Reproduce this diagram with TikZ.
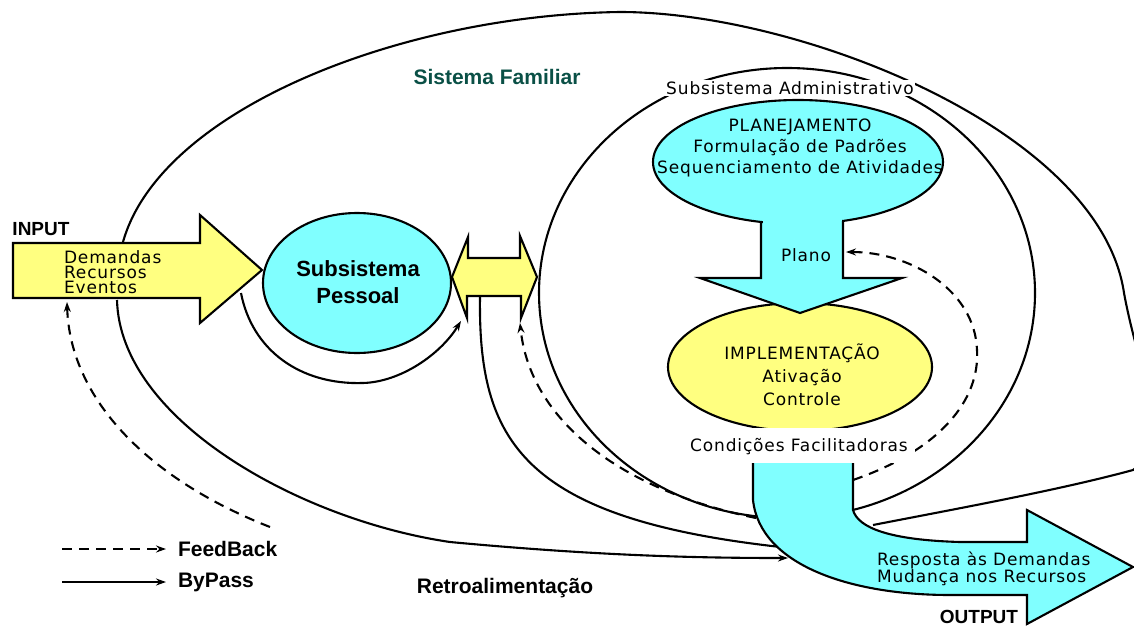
\documentclass[tikz,border=0pt]{standalone}
\usepackage{fontspec}
\usetikzlibrary{arrows.meta}
\newfontfamily\plainfont[LetterSpace=5]{DejaVu Sans}
\newfontfamily\boldfont{Liberation Sans}
\definecolor{famcyan}{RGB}{128,255,255}
\definecolor{famyellow}{RGB}{255,255,128}
\definecolor{famteal}{RGB}{10,80,70}
\begin{document}
\begin{tikzpicture}[x=1pt,y=-1pt,line width=2.1pt,
  txt/.style={font=\plainfont\fontsize{17}{21}\selectfont,inner sep=0pt,align=center},
  btxt/.style={font=\boldfont\bfseries\fontsize{21}{27}\selectfont,inner sep=0pt,align=center},
  fback/.style={dash pattern=on 10pt off 7pt,-{Stealth[length=10pt,width=7pt]}},
  bpass/.style={-{Stealth[length=10pt,width=7pt]}}]
\useasboundingbox (0,0) rectangle (1134,626);
\fill[white] (0,0) rectangle (1134,626);
\clip (0,0) rectangle (1134,626);
% sistema familiar e subsistema administrativo
\draw (123,242) .. controls (160,110) and (400,15) .. (620,12) .. controls (800,12) and (1100,130) .. (1124,293) .. controls (1140,380) and (1175,440) .. (1133,470) .. controls (1060,490) and (950,510) .. (873,525);
\draw (787,293) ellipse [x radius=248pt, y radius=225pt];
% retroalimentacao e bypass
\draw[bpass] (117,300) .. controls (120,420) and (300,520) .. (450,542) .. controls (600,556) and (700,558) .. (788,558);
\draw[fback] (270,527) .. controls (150,480) and (70,400) .. (67,302);
\draw[bpass] (241,293) .. controls (252,350) and (300,385) .. (363,383) .. controls (400,382) and (440,355) .. (461,321);
\draw (480,296) .. controls (478,440) and (520,520) .. (790,548);
\draw[fback] (756,518) .. controls (620,490) and (530,420) .. (520,323);
\draw[fback] (853,480) .. controls (940,450) and (980,400) .. (977,350) .. controls (975,290) and (910,252) .. (846,252);
% input
\draw[fill=famyellow] (13,243) -- (200,243) -- (200,215) -- (262,270) -- (200,323) -- (200,298) -- (13,298) -- cycle;
\node[btxt,font=\boldfont\bfseries\fontsize{19}{22}\selectfont] (input) at (41,229) {INPUT};
\node[txt,font=\plainfont\fontsize{17}{15}\selectfont,align=left,anchor=west] (entradas) at (63,272) {Demandas\\Recursos\\Eventos};
% subsistema pessoal
\draw[fill=famcyan] (357,283) ellipse [x radius=94pt, y radius=70pt];
\node[btxt,font=\boldfont\bfseries\fontsize{22}{27}\selectfont] (pessoal) at (358,282) {Subsistema\\Pessoal};
\draw[fill=famyellow] (452,277) -- (468,237) -- (468,258) -- (520,258) -- (520,236) -- (537,277) -- (521,318) -- (521,296) -- (467,296) -- (467,318) -- cycle;
% implementacao
\draw[fill=famyellow] (800,367) ellipse [x radius=132pt, y radius=64pt];
% planejamento e plano
\fill[famcyan] (798,162) ellipse [x radius=145pt, y radius=62pt];
\fill[famcyan] (761,200) -- (761,278) -- (700,278) -- (800,313) -- (902,278) -- (843,278) -- (843,200) -- cycle;
\draw (798,162) ellipse [x radius=145pt, y radius=62pt];
\fill[famcyan] (762.5,205) rectangle (841.5,240);
\draw (761,222) -- (761,278) -- (700,278) -- (800,313) -- (902,278) -- (843,278) -- (843,221);
\fill[white] (675,428) rectangle (915,463);
% output
\fill[famcyan] (753,463) -- (753,500) .. controls (760,565) and (850,595) .. (950,595) -- (1027,595) -- (1027,624) -- (1133,567) -- (1027,510) -- (1027,542) -- (960,542) .. controls (890,540) and (858,528) .. (853,510) -- (853,463) -- cycle;
\draw (753,463) -- (753,500) .. controls (760,565) and (850,595) .. (950,595) -- (1027,595) -- (1027,624) -- (1133,567) -- (1027,510) -- (1027,542) -- (960,542) .. controls (890,540) and (858,528) .. (853,510) -- (853,463);
% textos
\node[btxt,text=famteal] (familiar) at (497,77) {Sistema Familiar};
\node[txt,fill=white,inner sep=1pt] (admin) at (790,88) {Subsistema Administrativo};
\node[txt] (planej) at (800,148) {PLANEJAMENTO\\Formula\c{c}\~ao de Padr\~oes\\Sequenciamento de Atividades};
\node[txt] (plano) at (806,255) {Plano};
\node[txt,font=\plainfont\fontsize{17}{23}\selectfont] (implem) at (802,375) {IMPLEMENTA\c{C}\~AO\\Ativa\c{c}\~ao\\Controle};
\node[txt] (condicoes) at (799,447) {Condi\c{c}\~oes Facilitadoras};
\node[txt,font=\plainfont\fontsize{17}{15}\selectfont,align=left,anchor=west] (resposta) at (876,569) {Resposta \`as Demandas\\Mudan\c{c}a nos Recursos};
\node[btxt,font=\boldfont\bfseries\fontsize{19}{22}\selectfont] (output) at (979,617) {OUTPUT};
\node[btxt] (retro) at (505,588) {Retroalimenta\c{c}\~ao};
% legenda
\coordinate (fbA) at (62,549);
\coordinate (fbB) at (166,549);
\coordinate (bpA) at (62,582);
\coordinate (bpB) at (166,582);
\draw[fback] (fbA) -- (fbB);
\draw[bpass] (bpA) -- (bpB);
\node[btxt,anchor=west] (feedback) at (177,549) {FeedBack};
\node[btxt,anchor=west] (bypass) at (177,582) {ByPass};
\end{tikzpicture}
\end{document}
